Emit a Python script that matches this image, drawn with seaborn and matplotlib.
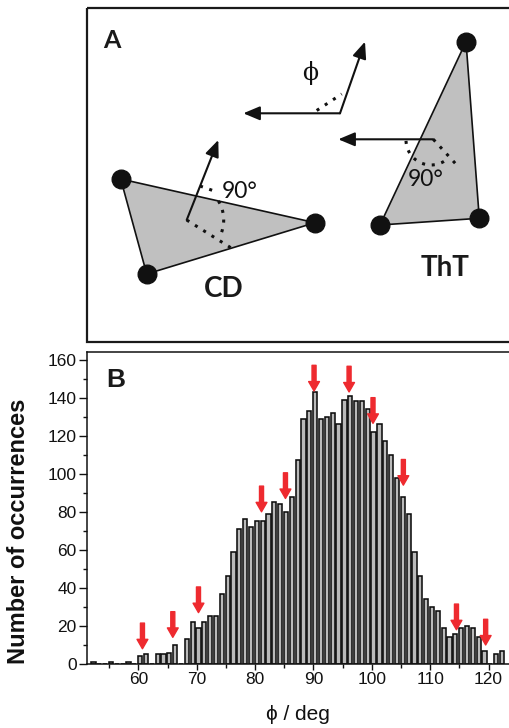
import numpy as np
import pandas as pd
import matplotlib
matplotlib.use("Agg")
import matplotlib.pyplot as plt
from matplotlib.patches import Polygon, Rectangle
from matplotlib.ticker import MultipleLocator
import seaborn as sns

# ---------------- data (panel B histogram) ----------------
phi_deg = list(range(52, 123))
counts = [1, 0, 0, 1, 0, 0, 1, 0, 4, 5,          # 52-61
          0, 5, 5, 6, 10, 0, 13, 22, 19, 22,       # 62-71
          25, 25, 37, 46, 59, 71, 76, 72, 75, 75,  # 72-81
          79, 85, 84, 80, 88, 107, 129, 133, 143, 129,  # 82-91
          130, 132, 126, 139, 141, 138, 138, 134, 122, 126,  # 92-101
          117, 110, 98, 88, 79, 59, 46, 34, 30, 28,  # 102-111
          19, 14, 16, 19, 20, 19, 14, 7, 0, 5,     # 112-121
          7]                                        # 122
# red arrows: x position and the count value where each tip points
arrow_x = [60.7, 65.9, 70.3, 81.1, 85.2, 90.1, 96.1, 100.2, 105.4, 114.5, 119.5]
arrow_tip = [8, 14, 27, 80, 87, 143.5, 143, 126.5, 94, 18, 10]
x_ticks = [60, 70, 80, 90, 100, 110, 120]
y_ticks = [0, 20, 40, 60, 80, 100, 120, 140, 160]

df = pd.DataFrame({"phi": phi_deg, "count": counts})

sns.set_style("ticks")
plt.rcParams["font.family"] = ["Liberation Sans", "DejaVu Sans"]

W, H = 509, 728
fig = plt.figure(figsize=(W / 100, H / 100), dpi=100)

# ---------------- panel A (schematic) ----------------
axA = fig.add_axes([0, 0, 1, 1])
axA.set_xlim(0, W)
axA.set_ylim(H, 0)
axA.axis("off")

axA.add_patch(Rectangle((87, 8), 440, 334, fill=False, lw=1.6, ec="#1a1a1a"))
axA.text(103, 48, "A", fontsize=18, fontweight="bold", family=["Lato", "DejaVu Sans"],
         va="baseline", ha="left", color="#1a1a1a")

tri_fc = "#c0c0c0"
cd = [(120.7, 179), (315, 222.7), (146.7, 274)]
tht = [(466, 41.7), (479.3, 218.3), (380, 225)]
for tri in (cd, tht):
    axA.add_patch(Polygon(tri, closed=True, fc=tri_fc, ec="#111", lw=1.2, zorder=2))
    axA.scatter([p[0] for p in tri], [p[1] for p in tri], s=180, color="#111", zorder=4)

arrow_kw = dict(arrowstyle="-|>,head_length=1.0,head_width=0.42", lw=1.5, color="#111",
                shrinkA=0, shrinkB=0, mutation_scale=10)


def arrow(x0, y0, x1, y1):
    axA.annotate("", xy=(x1, y1), xytext=(x0, y0), arrowprops=arrow_kw, zorder=5)


arrow(186.7, 220, 218.3, 140)
arrow(433.3, 139.3, 338.3, 139.3)
arrow(340, 113.3, 243.3, 113.3)
arrow(340, 113.3, 365, 41.7)

dot_kw = dict(color="#111", lw=2.2, ls=(0, (1, 2.2)), zorder=5, solid_capstyle="butt")
# CD angle marks
axA.plot([186.7, 231.7], [220, 248.3], **dot_kw)
axA.plot([200, 217], [186, 192], **dot_kw)
t = np.radians(np.linspace(-31, 23, 20))
axA.plot(186.7 + 37 * np.cos(t), 220 + 37 * np.sin(t), **dot_kw)
# ThT angle marks
axA.plot([433.3, 458.3], [139.3, 166.7], **dot_kw)
t = np.radians(np.linspace(178, 55, 25))
axA.plot(431 + 25 * np.cos(t), 140 + 25 * np.sin(t), **dot_kw)
# phi angle mark
axA.plot([316.7, 341.7], [110.5, 94], **dot_kw)

axA.text(310, 73, "ϕ", fontsize=17, family=["DejaVu Serif"], ha="center", va="center",
         color="#111")
fa = ["Lato", "DejaVu Sans"]
axA.text(221.5, 192, "90°", fontsize=16.5, family=fa, ha="left", va="center", color="#111", zorder=6)
axA.text(407.5, 180, "90°", fontsize=16.5, family=fa, ha="left", va="center", color="#111", zorder=6)
axA.text(224, 289, "CD", fontsize=20, fontweight="bold", family=fa, ha="center", va="center",
         color="#1a1a1a")
axA.text(445.5, 267.5, "ThT", fontsize=20, fontweight="bold", family=fa, ha="center",
         va="center", color="#1a1a1a")

# ---------------- panel B (histogram) ----------------
left, right, top, bottom = 87, 509, 352, 664
axB = fig.add_axes([left / W, 1 - bottom / H, (right - left) / W, (bottom - top) / H])
sns.histplot(data=df, x="phi", weights="count", binwidth=1.0, binrange=(51.8, 122.8),
             shrink=0.72, color="#bababa", edgecolor="#0d0d0d", linewidth=1.15, alpha=1.0,
             ax=axB)

for xa, tip in zip(arrow_x, arrow_tip):
    axB.annotate("", xy=(xa, tip), xytext=(xa, tip + 13.5),
                 arrowprops=dict(width=2.9, headwidth=7.8, headlength=6.8,
                                 color="#ee2a2f", shrink=0), zorder=6)

axB.set_xlim(51.2, 123.5)
axB.set_ylim(0, 164)
axB.set_xticks(x_ticks)
axB.set_yticks(y_ticks)
axB.xaxis.set_minor_locator(MultipleLocator(5))
axB.yaxis.set_minor_locator(MultipleLocator(10))
axB.tick_params(axis="both", which="major", direction="out", width=1.0,
                labelsize=12.5, pad=1.5, color="#111", labelcolor="#111")
axB.tick_params(axis="y", which="major", length=6)
axB.tick_params(axis="x", which="major", length=4)
axB.tick_params(axis="both", which="minor", direction="out", length=2.8, width=1.0, color="#111")
for s in ("left", "bottom", "top"):
    axB.spines[s].set_visible(True)
    axB.spines[s].set_linewidth(1.1)
    axB.spines[s].set_color("#111")
axB.spines["right"].set_visible(False)

axB.set_xlabel("ϕ / deg", fontsize=15, color="#111", labelpad=13)
axB.set_ylabel("Number of occurrences", fontsize=17, fontweight="bold", color="#111")
axB.yaxis.set_label_coords(-0.135, 0.426)
axB.text(0.045, 0.95, "B", transform=axB.transAxes, fontsize=19, fontweight="bold",
         ha="left", va="top", color="#1a1a1a")

fig.savefig("out.png", dpi=100)
